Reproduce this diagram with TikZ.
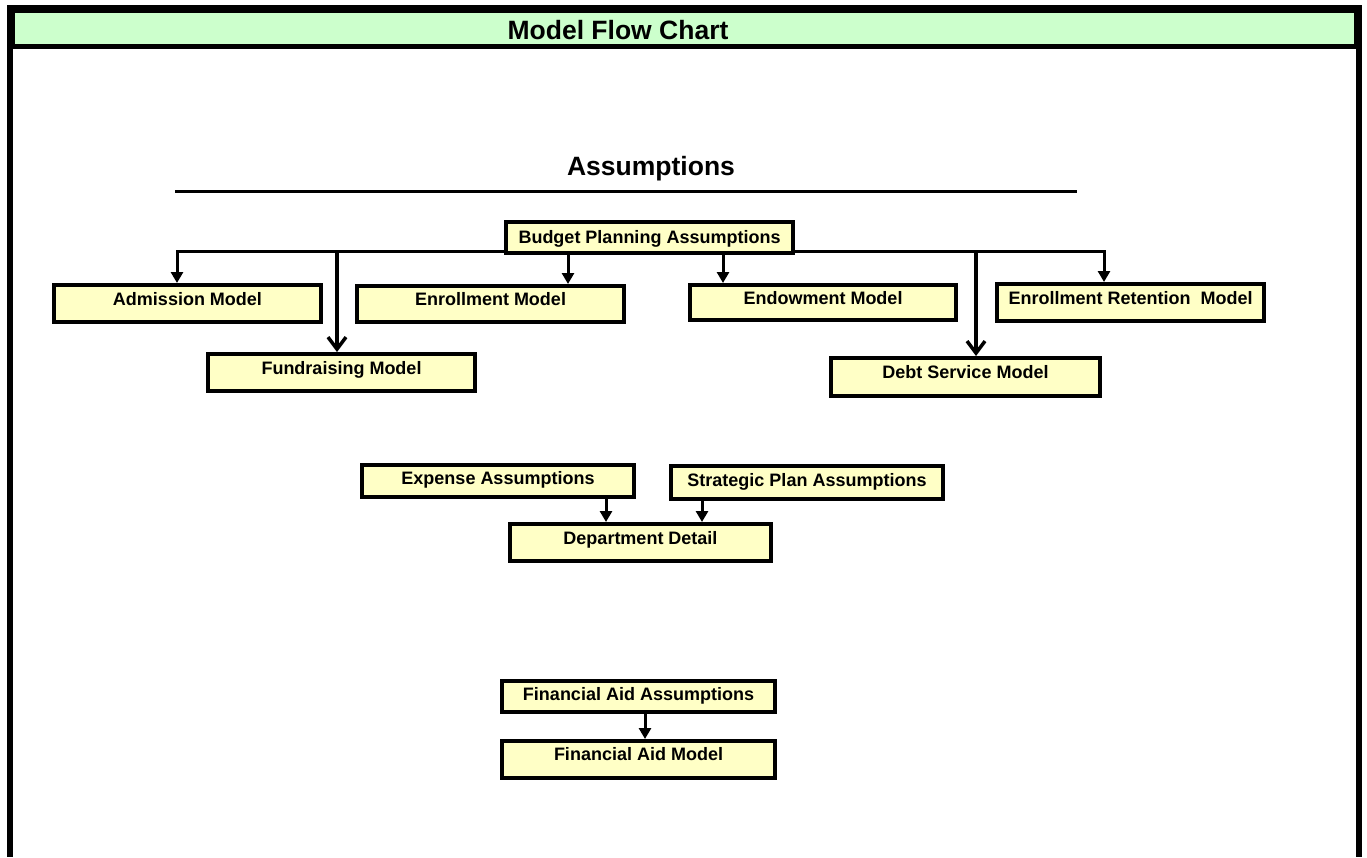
\documentclass[tikz,border=0pt]{standalone}
\usepackage{fontspec}
\setmainfont{Liberation Sans}
\usetikzlibrary{arrows.meta}
\definecolor{hdrgreen}{HTML}{CCFFCC}
\definecolor{boxyellow}{HTML}{FFFFC6}
\begin{document}
\begin{tikzpicture}[x=1pt,y=-1pt,
  box/.style={draw=black, line width=4pt, fill=boxyellow, inner sep=0pt,
    font=\bfseries\fontsize{18}{20}\selectfont, text height=13pt, text depth=10pt},
  conn/.style={line width=3pt, -{Triangle[width=12pt,length=11pt]}},
  longconn/.style={line width=3.2pt, -{Straight Barb[width=18pt,length=12pt,line width=3.5pt]}},
  bigtitle/.style={font=\bfseries\fontsize{26.5}{30}\selectfont, inner sep=0pt}
]
\useasboundingbox (0,0) rectangle (1367,857);
\fill[white] (0,0) rectangle (1367,857);
% frame and header
\fill[black] (7,5) rectangle (1362,49);
\fill[black] (7,5) rectangle (13,857);
\fill[black] (1356,5) rectangle (1362,857);
\fill[hdrgreen] (15,13) rectangle (1354,44);
\node[bigtitle] (title) at (618,30) {Model Flow Chart};
\node[bigtitle, anchor=base] (assum) at (651,175) {Assumptions};
\draw[line width=3pt] (175,191) -- (1077,191);

% boxes
\node[box, minimum width=287pt, minimum height=31pt, text depth=2pt] (budget) at (649.5,237.5) {Budget Planning Assumptions};
\node[box, minimum width=267pt, minimum height=37pt] (admission) at (187.5,303.5) {Admission Model};
\node[box, minimum width=267pt, minimum height=36pt] (enrollment) at (490.5,304) {Enrollment Model};
\node[box, minimum width=266pt, minimum height=35pt] (endowment) at (823,302.5) {Endowment Model};
\node[box, minimum width=267pt, minimum height=37pt] (retention) at (1130.5,302.5) {Enrollment Retention\ \ Model};
\node[box, minimum width=267pt, minimum height=37pt] (fundraising) at (341.5,372.5) {Fundraising Model};
\node[box, minimum width=269pt, minimum height=38pt] (debt) at (965.5,377) {Debt Service Model};
\node[box, minimum width=272pt, minimum height=32pt, text depth=6pt] (expense) at (498,481) {Expense Assumptions};
\node[box, minimum width=272pt, minimum height=33pt, text depth=5pt] (strategic) at (807,482.5) {Strategic Plan Assumptions};
\node[box, minimum width=261pt, minimum height=37pt, text depth=9pt] (department) at (640.5,542.5) {Department Detail};
\node[box, minimum width=273pt, minimum height=31pt, text depth=5pt] (finaidA) at (638.5,696.5) {Financial Aid Assumptions};
\node[box, minimum width=273pt, minimum height=37pt, text depth=12pt] (finaidM) at (638.5,759.5) {Financial Aid Model};

% connector coordinates
\coordinate (trunkL) at (177,251);
\coordinate (trunkF) at (337,251);
\coordinate (trunkR) at (1104,251);
\coordinate (trunkD) at (976,251);
\coordinate (xEnr) at (568,0);
\coordinate (xEnd) at (723,0);
\coordinate (xExp) at (606,0);
\coordinate (xStr) at (702,0);
\coordinate (xFin) at (645,0);

% connectors
\draw[conn] (budget.west |- trunkL) -- (trunkL) -- (admission.north -| trunkL);
\draw[longconn] (trunkF) -- (fundraising.north -| trunkF);
\draw[conn] (budget.south -| xEnr) -- (enrollment.north -| xEnr);
\draw[conn] (budget.south -| xEnd) -- (endowment.north -| xEnd);
\draw[conn] (budget.east |- trunkR) -- (trunkR) -- (retention.north -| trunkR);
\draw[longconn] (trunkD) -- (debt.north -| trunkD);
\draw[conn] (expense.south -| xExp) -- (department.north -| xExp);
\draw[conn] (strategic.south -| xStr) -- (department.north -| xStr);
\draw[conn] (finaidA.south -| xFin) -- (finaidM.north -| xFin);
\end{tikzpicture}
\end{document}
